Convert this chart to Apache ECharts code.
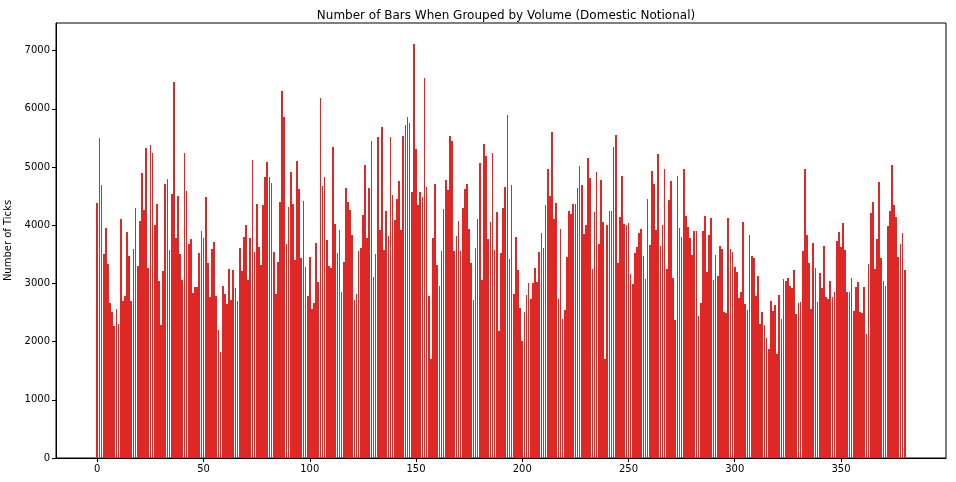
<!DOCTYPE html>
<html>
<head>
<meta charset="utf-8">
<script src="https://cdn.jsdelivr.net/npm/echarts@6/dist/echarts.min.js"></script>
<style>
html,body{margin:0;padding:0;background:#fff;}
#chart{width:956px;height:482px;}
</style>
</head>
<body>
<div id="chart"></div>
<script>
const titleText = 'Number of Bars When Grouped by Volume (Domestic Notional)';
const yName = 'Number of Ticks';
const xTicks = [0, 50, 100, 150, 200, 250, 300, 350];
const yTicks = [0, 1000, 2000, 3000, 4000, 5000, 6000, 7000];
const tickCounts = [
4386,5504,4696,3509,3956,3337,2666,2511,2270,2563,
2305,4111,2700,2786,3887,3474,2700,3595,4300,3302,
4076,4902,4266,5332,3268,5384,5246,4008,4369,3044,
2288,3216,4713,4799,3578,4541,6467,3784,4506,3509,
3062,5246,4592,3681,3767,2838,2941,2941,3526,3904,
3784,4489,3354,2769,3595,3715,2786,2202,1823,2958,
2821,2649,3251,2718,3234,2924,2700,3612,3216,3801,
4008,3062,3784,5126,3543,4369,3629,3320,4352,4833,
5091,4833,4730,3543,2821,3371,4403,6312,5865,3681,
4317,4919,4369,3406,5108,4627,3440,4420,3285,2786,
3457,2563,2666,3698,3027,6192,4678,4833,3749,3302,
3268,5349,4025,3526,3921,2855,3371,4644,4403,4265,
3835,2717,2821,3560,3612,4179,5039,3784,4644,5452,
3113,3509,5521,3921,5693,3577,4248,3818,5521,4523,
4093,4455,4764,3921,5538,5727,5865,5762,4575,7120,
5315,4351,4575,4489,6536,4661,2786,1703,3784,4713,
3319,2958,3560,4283,4781,4609,5538,5452,3560,3818,
4076,3560,4300,4627,4713,3939,3354,2717,3612,4111,
5074,3061,5400,5194,3767,4059,5246,3577,4231,2184,
3526,4300,4661,5899,3423,4695,2821,3801,3234,2580,
2012,2511,2803,3010,2735,3010,3268,3027,3543,3870,
3612,4351,4971,4506,5607,4111,4386,2735,3939,2391,
2546,3457,4248,4197,4369,4369,4644,5022,4695,3853,
4007,5160,4816,3251,4231,4919,3681,4781,4059,1703,
4007,4248,4248,5349,5555,3354,4145,4850,4025,4007,
4042,3165,2993,3526,3629,3870,3939,3474,3079,4455,
3663,4936,4713,3921,5229,3646,4007,4971,3251,4437,
4764,3096,2374,4850,3956,3801,4971,4162,3973,3784,
3491,3904,3904,2442,2666,3904,4162,3199,3835,4128,
3061,3491,3130,3646,3595,2511,2494,4128,3595,3543,
3285,3199,2752,2855,4059,2649,2546,3835,3474,3440,
2786,3130,2305,2511,2287,2064,1875,2700,2528,2631,
1789,2803,2391,3079,3044,3096,2958,2924,3234,2477,
2666,2683,3560,4971,3835,3354,2563,3698,3268,2683,
3182,2924,3646,2769,2735,3044,2769,2855,3732,3887,
3629,4042,3577,2855,2855,3096,2528,2941,3027,2511,
2494,2941,2133,3337,4214,4403,3251,3767,4747,3440,
3044,2958,3990,4248,5039,4351,4145,3457,3681,3870,
3234
];

const chart = echarts.init(document.getElementById('chart'), null, {renderer: 'canvas'});
const font = 'DejaVu Sans';
const n = tickCounts.length;
const pad = (n - 0.2) * 0.05;
const barColor = '#dd2826';
chart.setOption({
  animation: false,
  backgroundColor: '#fff',
  textStyle: {fontFamily: font},
  title: {
    text: titleText, left: 501, top: 5, textAlign: 'center',
    textStyle: {fontFamily: font, fontSize: 12, fontWeight: 'normal', color: '#000'}
  },
  grid: {left: 56, right: 10, top: 23, bottom: 24, show: true, borderColor: '#000', borderWidth: 1,
         backgroundColor: 'transparent', containLabel: false, outerBoundsMode: 'none'},
  xAxis: {
    type: 'value',
    min: -0.4 - pad, max: n - 0.6 + pad,
    splitLine: {show: false},
    axisLine: {show: true, onZero: false, lineStyle: {color: '#000', width: 1}},
    axisTick: {show: true, length: 4, lineStyle: {color: '#000'}, customValues: xTicks},
    axisLabel: {customValues: xTicks, fontFamily: font, fontSize: 10, color: '#000', margin: 6,
                formatter: v => String(v)}
  },
  yAxis: {
    type: 'value',
    min: 0, max: 7476,
    name: yName, nameLocation: 'middle', nameRotate: 90, nameGap: 34,
    nameTextStyle: {fontFamily: font, fontSize: 10, color: '#000'},
    splitLine: {show: false},
    axisLine: {show: true, onZero: false, lineStyle: {color: '#000', width: 1}},
    axisTick: {show: true, length: 4, lineStyle: {color: '#000'}, customValues: yTicks},
    axisLabel: {customValues: yTicks, fontFamily: font, fontSize: 10, color: '#000', margin: 6,
                formatter: v => String(v)}
  },
  series: [{
    type: 'custom',
    data: tickCounts.map((v, i) => [i, v]),
    encode: {x: 0, y: 1},
    renderItem: function (params, api) {
      const i = api.value(0), v = api.value(1);
      const p0 = api.coord([i - 0.4, v]);
      const p1 = api.coord([i + 0.4, 0]);
      const x0 = Math.round(p0[0]), x1 = Math.round(p1[0]);
      const y0 = Math.round(p0[1]), y1 = Math.round(p1[1]);
      return {
        type: 'rect',
        shape: {x: x0, y: y0, width: Math.max(1, x1 - x0), height: y1 - y0},
        style: {fill: barColor}
      };
    }
  }]
});
</script>
</body>
</html>
